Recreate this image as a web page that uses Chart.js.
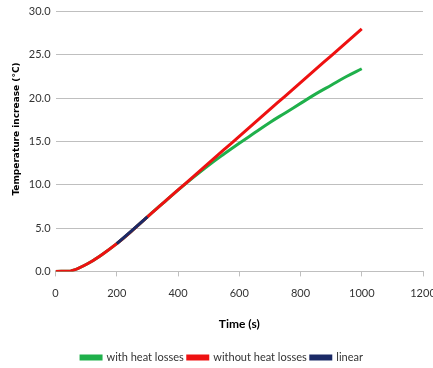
<!DOCTYPE html>
<html><head><meta charset="utf-8">
<script src="https://cdn.jsdelivr.net/npm/chart.js@4/dist/chart.umd.min.js"></script>
<style>html,body{margin:0;padding:0;background:#fff}#wrap{width:433px;height:368px}</style>
</head><body><div id="wrap"><canvas id="c" width="433" height="368"></canvas></div>
<script>
const times = [0,50,100,150,200,250,300,350,400,450,500,550,600,650,700,750,800,850,900,950,1000];
const withLosses = [0,0.05,0.8,1.9,3.2,4.7,6.3,7.85,9.38,10.85,12.25,13.55,14.8,16.0,17.2,18.3,19.4,20.5,21.5,22.5,23.4];
const withoutLosses = [0,0.05,0.8,1.9,3.2,4.7,6.3,7.85,9.4,10.95,12.5,14.05,15.6,17.15,18.7,20.25,21.8,23.35,24.9,26.45,28.0];
const linearTimes = [200,250,300];
const linearValues = [3.2,4.75,6.3];
const xTicks = [0,200,400,600,800,1000,1200];
const yTicks = [0,5,10,15,20,25,30];

const pts = (xs, ys) => xs.map((x,i)=>({x:x,y:ys[i]}));
const FONT = "Lato,'Open Sans',sans-serif";
const NB = '\u00A0';

new Chart(document.getElementById('c'), {
  type: 'line',
  data: {
    datasets: [
      {label:'with heat losses', data: pts(times, withLosses), borderColor:'#1fb04b', backgroundColor:'#1fb04b', borderWidth:3, pointRadius:0, tension:0.4, order:3},
      {label:'without heat losses', data: pts(times, withoutLosses), borderColor:'#ee1111', backgroundColor:'#ee1111', borderWidth:3, pointRadius:0, tension:0.4, order:2},
      {label:'linear', data: pts(linearTimes, linearValues), borderColor:'#1b2a66', backgroundColor:'#1b2a66', borderWidth:3, pointRadius:0, tension:0, order:1}
    ]
  },
  options: {
    responsive:false, animation:false, devicePixelRatio:1,
    layout:{padding:{left:11,right:0,top:8,bottom:-5}},
    plugins:{
      tooltip:{enabled:false},
      legend:{position:'bottom', labels:{boxWidth:20, boxHeight:3, padding:4, color:'#333', font:{family:FONT, size:11}, sort:(a,b)=>a.datasetIndex-b.datasetIndex}}
    },
    scales:{
      x:{type:'linear', min:0, max:1200,
        afterBuildTicks:(s)=>{s.ticks = xTicks.map(v=>({value:v}));},
        afterFit:(s)=>{s.paddingRight = 10; s.paddingLeft = 0;},
        ticks:{color:'#333', font:{family:FONT, size:11}, padding:10, maxRotation:0, callback:(v)=>String(v)},
        grid:{drawOnChartArea:false, drawTicks:true, tickLength:5, color:'#bfbfbf'},
        border:{display:true, color:'#bfbfbf'},
        title:{display:true, text:'Time (s)', color:'#000', font:{family:FONT, size:12, weight:'bold'}, padding:{top:7,bottom:17}}
      },
      y:{min:0, max:30,
        afterBuildTicks:(s)=>{s.ticks = yTicks.map(v=>({value:v}));},
        ticks:{color:'#333', font:{family:FONT, size:11}, padding:5, callback:(v)=>Number(v).toFixed(1)},
        grid:{color:'#bfbfbf', drawTicks:false, lineWidth:1},
        border:{display:false},
        title:{display:true, text:NB.repeat(8)+'Temperature increase (°C)', color:'#000', font:{family:"'DejaVu Sans',sans-serif", size:9, weight:'bold'}, padding:{top:0,bottom:2}}
      }
    }
  }
});
</script></body></html>
